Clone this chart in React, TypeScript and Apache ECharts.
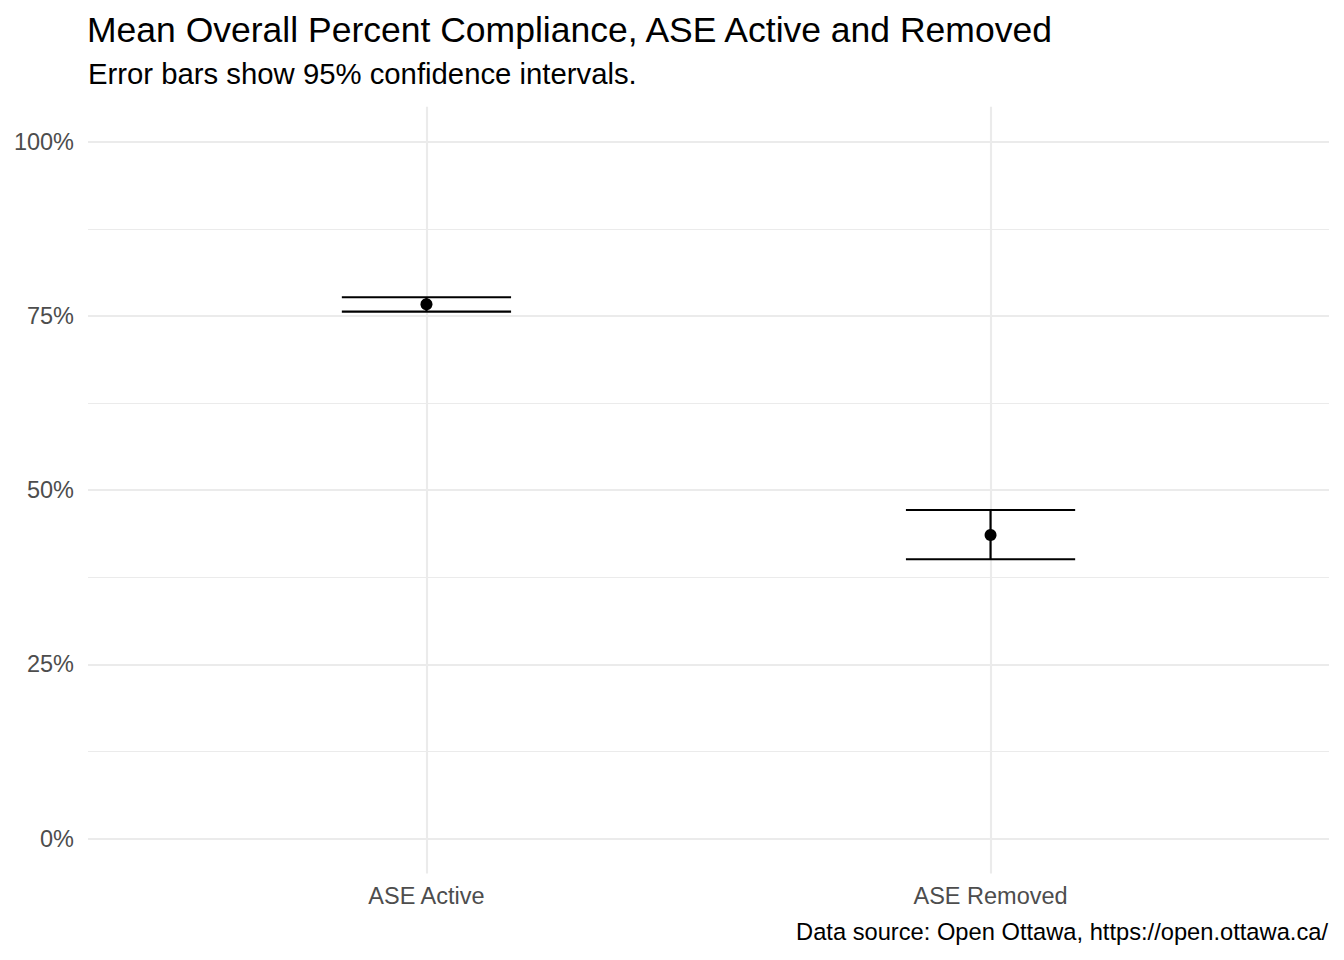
import React, { useEffect, useRef } from "react";
import * as echarts from "echarts";

const TITLE = "Mean Overall Percent Compliance, ASE Active and Removed";
const SUBTITLE = "Error bars show 95% confidence intervals.";
const CAPTION = "Data source: Open Ottawa, https://open.ottawa.ca/";

const CATEGORIES = ["ASE Active", "ASE Removed"];
const MEANS = [0.7667, 0.4357];
const LOWER = [0.7561, 0.4009];
const UPPER = [0.7768, 0.4716];

const Y_TICKS = [0, 0.25, 0.5, 0.75, 1];
const Y_MINOR = [0.125, 0.375, 0.625, 0.875];
const X_TICKS = CATEGORIES.map((_, i) => i + 1);

const FONT = "'Liberation Sans', Arial, Helvetica, sans-serif";
const GRID_COLOR = "#ebebeb";

export default function App() {
  const ref = useRef<HTMLDivElement>(null);

  useEffect(() => {
    if (!ref.current) return;
    const chart = echarts.init(ref.current, null, { renderer: "svg" });

    const gridLines = [
      ...Y_MINOR.map((v) => ({ yAxis: v, lineStyle: { color: GRID_COLOR, width: 1.1, type: "solid", opacity: 1 } })),
      ...Y_TICKS.map((v) => ({ yAxis: v, lineStyle: { color: GRID_COLOR, width: 2.1, type: "solid", opacity: 1 } })),
      ...X_TICKS.map((v) => ({ xAxis: v, lineStyle: { color: GRID_COLOR, width: 2.1, type: "solid", opacity: 1 } })),
    ];

    const option: any = {
      animation: false,
      backgroundColor: "#ffffff",
      textStyle: { fontFamily: FONT },
      title: [
        {
          text: TITLE,
          left: 87,
          top: 12,
          padding: 0,
          textStyle: { fontSize: 35.5, fontWeight: "normal", color: "#000000", fontFamily: FONT, lineHeight: 35.5 },
        },
        {
          text: SUBTITLE,
          left: 88,
          top: 58.5,
          padding: 0,
          textStyle: { fontSize: 29.3, fontWeight: "normal", color: "#000000", fontFamily: FONT, lineHeight: 29.3 },
        },
        {
          text: CAPTION,
          right: 16,
          top: 920,
          padding: 0,
          textStyle: { fontSize: 23.7, fontWeight: "normal", color: "#000000", fontFamily: FONT, lineHeight: 23.7 },
        },
      ],
      grid: { left: 88, right: 15, top: 106.85, bottom: 86.45, containLabel: false },
      xAxis: {
        type: "value",
        min: 0.4,
        max: 2.6,
        axisLine: { show: false },
        axisTick: { show: false },
        splitLine: { show: false },
        axisLabel: {
          customValues: X_TICKS,
          formatter: (v: number) => CATEGORIES[Math.round(v) - 1] ?? "",
          color: "#4d4d4d",
          fontSize: 23.5,
          fontFamily: FONT,
          margin: 10.5,
          lineHeight: 23.5,
        },
      },
      yAxis: {
        type: "value",
        min: -0.05,
        max: 1.05,
        axisLine: { show: false },
        axisTick: { show: false },
        splitLine: { show: false },
        axisLabel: {
          customValues: Y_TICKS,
          formatter: (v: number) => `${Math.round(v * 100)}%`,
          color: "#4d4d4d",
          fontSize: 23.5,
          fontFamily: FONT,
          margin: 14,
          lineHeight: 23.5,
        },
      },
      series: [
        {
          type: "line",
          data: [],
          z: 1,
          silent: true,
          markLine: {
            z: 1,
            silent: true,
            precision: 6,
            symbol: ["none", "none"],
            label: { show: false },
            emphasis: { disabled: true },
            data: gridLines,
          },
        },
        {
          type: "custom",
          z: 3,
          silent: true,
          data: CATEGORIES.map((_, i) => [i + 1, LOWER[i], UPPER[i]]),
          renderItem: (params: any, api: any) => {
            const x = api.value(0);
            const lo = api.value(1);
            const hi = api.value(2);
            const pTop = api.coord([x, hi]);
            const pBot = api.coord([x, lo]);
            const half = api.size([0.15, 0])[0];
            const style = { stroke: "#000000", lineWidth: 2.2, fill: null };
            return {
              type: "group",
              children: [
                { type: "line", shape: { x1: pTop[0] - half, y1: pTop[1], x2: pTop[0] + half, y2: pTop[1] }, style },
                { type: "line", shape: { x1: pBot[0] - half, y1: pBot[1], x2: pBot[0] + half, y2: pBot[1] }, style },
                { type: "line", shape: { x1: pTop[0], y1: pTop[1], x2: pBot[0], y2: pBot[1] }, style },
              ],
            };
          },
        },
        {
          type: "scatter",
          z: 4,
          silent: true,
          symbol: "circle",
          symbolSize: 12,
          itemStyle: { color: "#000000", opacity: 1 },
          data: CATEGORIES.map((_, i) => [i + 1, MEANS[i]]),
        },
      ],
    };

    chart.setOption(option);
    return () => {
      chart.dispose();
    };
  }, []);

  return (
    <div
      ref={ref}
      style={{ position: "absolute", left: 0, top: 0, width: 1344, height: 960, background: "#ffffff" }}
    />
  );
}
